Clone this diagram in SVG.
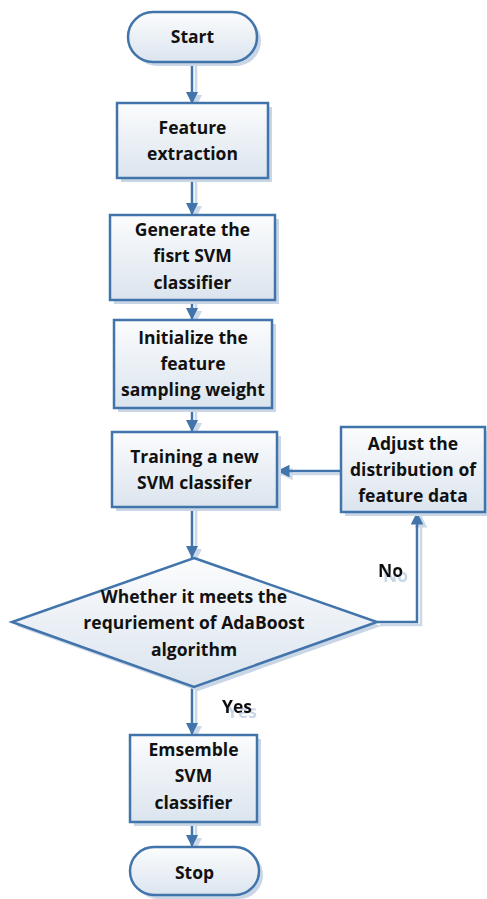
<svg xmlns="http://www.w3.org/2000/svg" width="487" height="899" viewBox="0 0 487 899">
<style>
.n{fill:url(#g);stroke:#4274ac;stroke-width:2.5}
.sh{fill:#c9d6e6;stroke:none}
.t{font-family:"Open Sans","Liberation Sans",Arial,sans-serif;font-weight:bold;font-size:17.5px;fill:#111;text-anchor:middle}
.c{fill:none;stroke:#4274ac;stroke-width:2.5}
.cs{fill:none;stroke:#cbd8e8;stroke-width:2.5}
.lbl{font-family:"Open Sans","Liberation Sans",Arial,sans-serif;font-weight:bold;font-size:17.5px;fill:#111;filter:url(#ts)}
</style>
<defs>
<linearGradient id="g" x1="0" y1="0" x2="0" y2="1">
<stop offset="0" stop-color="#fbfcfd"/>
<stop offset="1" stop-color="#dbe4ee"/>
</linearGradient>
<filter id="ts" x="-20%" y="-20%" width="160%" height="160%">
<feOffset in="SourceAlpha" dx="5" dy="5" result="o"/>
<feFlood flood-color="#c9d6e6"/>
<feComposite in2="o" operator="in" result="s"/>
<feMerge><feMergeNode in="s"/><feMergeNode in="SourceGraphic"/></feMerge>
</filter>
<marker id="a" viewBox="0 0 10 10" refX="10" refY="5" markerWidth="5" markerHeight="5" orient="auto" markerUnits="strokeWidth">
<path d="M0,0 L10,5 L0,10 z" fill="#4274ac"/>
</marker>
<marker id="as" viewBox="0 0 10 10" refX="10" refY="5" markerWidth="5" markerHeight="5" orient="auto" markerUnits="strokeWidth">
<path d="M0,0 L10,5 L0,10 z" fill="#cbd8e8"/>
</marker>
</defs>
<g id="connectors">
<path class="cs" d="M196,65 V107" marker-end="url(#as)"/>
<path class="c" d="M192,62 V104" marker-end="url(#a)"/>
<path class="cs" d="M196,181 V218" marker-end="url(#as)"/>
<path class="c" d="M192,178 V215" marker-end="url(#a)"/>
<path class="cs" d="M196,303 V323" marker-end="url(#as)"/>
<path class="c" d="M192,300 V320" marker-end="url(#a)"/>
<path class="cs" d="M196,411 V435" marker-end="url(#as)"/>
<path class="c" d="M192,408 V432" marker-end="url(#a)"/>
<path class="cs" d="M196,510 V561" marker-end="url(#as)"/>
<path class="c" d="M192,507 V558" marker-end="url(#a)"/>
<path class="cs" d="M341,474 H280" marker-end="url(#as)"/>
<path class="c" d="M341,471 H277" marker-end="url(#a)"/>
<path class="cs" d="M380,625 H421 V515" marker-end="url(#as)"/>
<path class="c" d="M377,622 H417 V512" marker-end="url(#a)"/>
<path class="cs" d="M196,690 V738" marker-end="url(#as)"/>
<path class="c" d="M192,687 V735" marker-end="url(#a)"/>
<path class="cs" d="M196,825 V850" marker-end="url(#as)"/>
<path class="c" d="M192,822 V847" marker-end="url(#a)"/>
<text class="lbl" x="378" y="577">No</text>
<text class="lbl" x="222" y="713">Yes</text>
</g>
<g id="start">
<rect class="sh" x="132" y="16" width="129" height="50" rx="25"/>
<rect class="n" x="128" y="12" width="129" height="50" rx="25"/>
<text class="t" x="192.5" y="43">Start</text>
</g>
<g id="feature">
<rect class="sh" x="121" y="107" width="151" height="75"/>
<rect class="n" x="117" y="103" width="151" height="75"/>
<text class="t" x="192.5" y="134">Feature</text>
<text class="t" x="192.5" y="160">extraction</text>
</g>
<g id="generate">
<rect class="sh" x="114" y="219" width="165" height="85"/>
<rect class="n" x="110" y="215" width="165" height="85"/>
<text class="t" x="192.5" y="236">Generate the</text>
<text class="t" x="192.5" y="262">fisrt SVM</text>
<text class="t" x="192.5" y="289">classifier</text>
</g>
<g id="initialize">
<rect class="sh" x="118" y="324" width="158" height="88"/>
<rect class="n" x="114" y="320" width="158" height="88"/>
<text class="t" x="193" y="344">Initialize the</text>
<text class="t" x="193" y="370">feature</text>
<text class="t" x="193" y="396">sampling weight</text>
</g>
<g id="training">
<rect class="sh" x="116" y="436" width="165" height="75"/>
<rect class="n" x="112" y="432" width="165" height="75"/>
<text class="t" x="194.5" y="463">Training a new</text>
<text class="t" x="194.5" y="489">SVM classifer</text>
</g>
<g id="adjust">
<rect class="sh" x="345" y="431" width="142" height="85"/>
<rect class="n" x="341" y="427" width="144" height="85"/>
<text class="t" x="413" y="450">Adjust the</text>
<text class="t" x="413" y="476">distribution of</text>
<text class="t" x="413" y="502">feature data</text>
</g>
<g id="decision">
<polygon class="sh" points="198,562 381,626 198,691 16,626"/>
<polygon class="n" points="194,558 377,622 194,687 12,622"/>
<text class="t" x="194" y="603">Whether it meets the</text>
<text class="t" x="194" y="629">requriement of AdaBoost</text>
<text class="t" x="194" y="656">algorithm</text>
</g>
<g id="ensemble">
<rect class="sh" x="134" y="739" width="127" height="87"/>
<rect class="n" x="130" y="735" width="127" height="87"/>
<text class="t" x="193.5" y="756">Emsemble</text>
<text class="t" x="193.5" y="782">SVM</text>
<text class="t" x="193.5" y="809">classifier</text>
</g>
<g id="stop">
<rect class="sh" x="134" y="851" width="129" height="48" rx="24"/>
<rect class="n" x="130" y="847" width="129" height="48" rx="24"/>
<text class="t" x="194.5" y="879">Stop</text>
</g>
</svg>
